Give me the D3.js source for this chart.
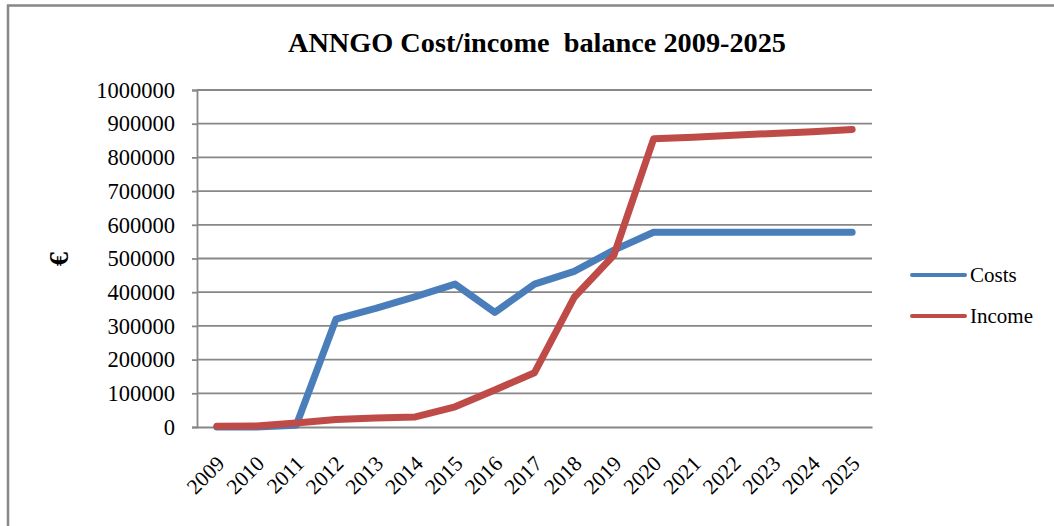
<!DOCTYPE html>
<html>
<head>
<meta charset="utf-8">
<script src="https://cdn.jsdelivr.net/npm/d3@7"></script>
<style>
  html, body { margin: 0; padding: 0; background: #fff; }
  svg { display: block; }
  text { font-family: "Liberation Serif", "DejaVu Serif", serif; fill: #000; }
</style>
</head>
<body>
<svg id="chart" width="1054" height="526"></svg>
<script>
const years = ["2009","2010","2011","2012","2013","2014","2015","2016","2017","2018","2019","2020","2021","2022","2023","2024","2025"];
const costs = [0, 0, 5000, 320000, 352000, 387000, 424000, 340000, 424000, 462000, 525000, 578000, 578000, 578000, 578000, 578000, 578000];
const income = [2000, 3000, 12000, 22000, 27000, 30000, 60000, 110000, 161000, 385000, 510000, 855000, 860000, 866000, 871000, 876000, 883000];
const yTicks = [0, 100000, 200000, 300000, 400000, 500000, 600000, 700000, 800000, 900000, 1000000];
const seriesNames = ["Costs", "Income"];
const seriesColors = ["#4a7ebb", "#be4b48"];
const titleText = "ANNGO Cost/income  balance 2009-2025";
const yAxisTitle = "€";

const svg = d3.select("#chart");
const plotLeft = 197, plotRight = 872, plotTop = 90, plotBottom = 427;

// outer frame
svg.append("rect").attr("x", 8).attr("y", 5.5).attr("width", 1060).attr("height", 540)
  .attr("fill", "none").attr("stroke", "#878787").attr("stroke-width", 2.5);

const x = d3.scaleBand().domain(years).range([plotLeft, plotRight]);
const y = d3.scaleLinear().domain([0, 1000000]).range([plotBottom, plotTop]);

// gridlines
svg.append("g").selectAll("line").data(yTicks.filter(d => d > 0)).join("line")
  .attr("x1", plotLeft).attr("x2", plotRight)
  .attr("y1", d => y(d)).attr("y2", d => y(d))
  .attr("stroke", "#878787").attr("stroke-width", 1.8);

// y axis
const yAxis = svg.append("g").attr("transform", `translate(${plotLeft},0)`)
  .call(d3.axisLeft(y).tickValues(yTicks).tickSize(5).tickPadding(17).tickFormat(d => String(d)));
yAxis.select(".domain").attr("stroke", "#878787").attr("stroke-width", 1.8);
yAxis.selectAll(".tick line").attr("stroke", "#878787").attr("stroke-width", 1.8);
yAxis.selectAll(".tick text").attr("font-family", "Liberation Serif, serif").attr("font-size", 22.5).attr("fill", "#000");

// x axis
const xAxis = svg.append("g").attr("transform", `translate(0,${plotBottom})`)
  .call(d3.axisBottom(x).tickSize(0).tickPadding(0));
xAxis.select(".domain").attr("stroke", "#878787").attr("stroke-width", 1.8);
xAxis.selectAll(".tick text")
  .attr("font-family", "Liberation Serif, serif").attr("font-size", 21.5).attr("fill", "#000")
  .attr("text-anchor", "end").attr("dy", 0).attr("y", 0)
  .attr("transform", "translate(9,38) rotate(-45)");

// lines
const line = d3.line().x((d, i) => x(years[i]) + x.bandwidth() / 2).y(d => y(d));
[costs, income].forEach((s, k) => {
  svg.append("path").datum(s).attr("d", line)
    .attr("fill", "none").attr("stroke", seriesColors[k]).attr("stroke-width", 7)
    .attr("stroke-linejoin", "round").attr("stroke-linecap", "round");
});

// title
svg.append("text").attr("x", 537).attr("y", 52).attr("text-anchor", "middle")
  .attr("font-size", 27).attr("font-weight", "bold").style("white-space", "pre")
  .attr("textLength", 498).attr("lengthAdjust", "spacingAndGlyphs")
  .text(titleText);

// y axis title
svg.append("text").attr("transform", "translate(68,259) rotate(-90)").attr("text-anchor", "middle")
  .attr("font-size", 28).attr("font-weight", "bold").text(yAxisTitle);

// legend
const lg = svg.append("g");
seriesNames.forEach((name, k) => {
  const ly = 275 + k * 41;
  lg.append("line").attr("x1", 912).attr("x2", 965).attr("y1", ly).attr("y2", ly)
    .attr("stroke", seriesColors[k]).attr("stroke-width", 4).attr("stroke-linecap", "round");
  lg.append("text").attr("x", 970).attr("y", ly + 7).attr("font-size", 21).text(name);
});
</script>
</body>
</html>
